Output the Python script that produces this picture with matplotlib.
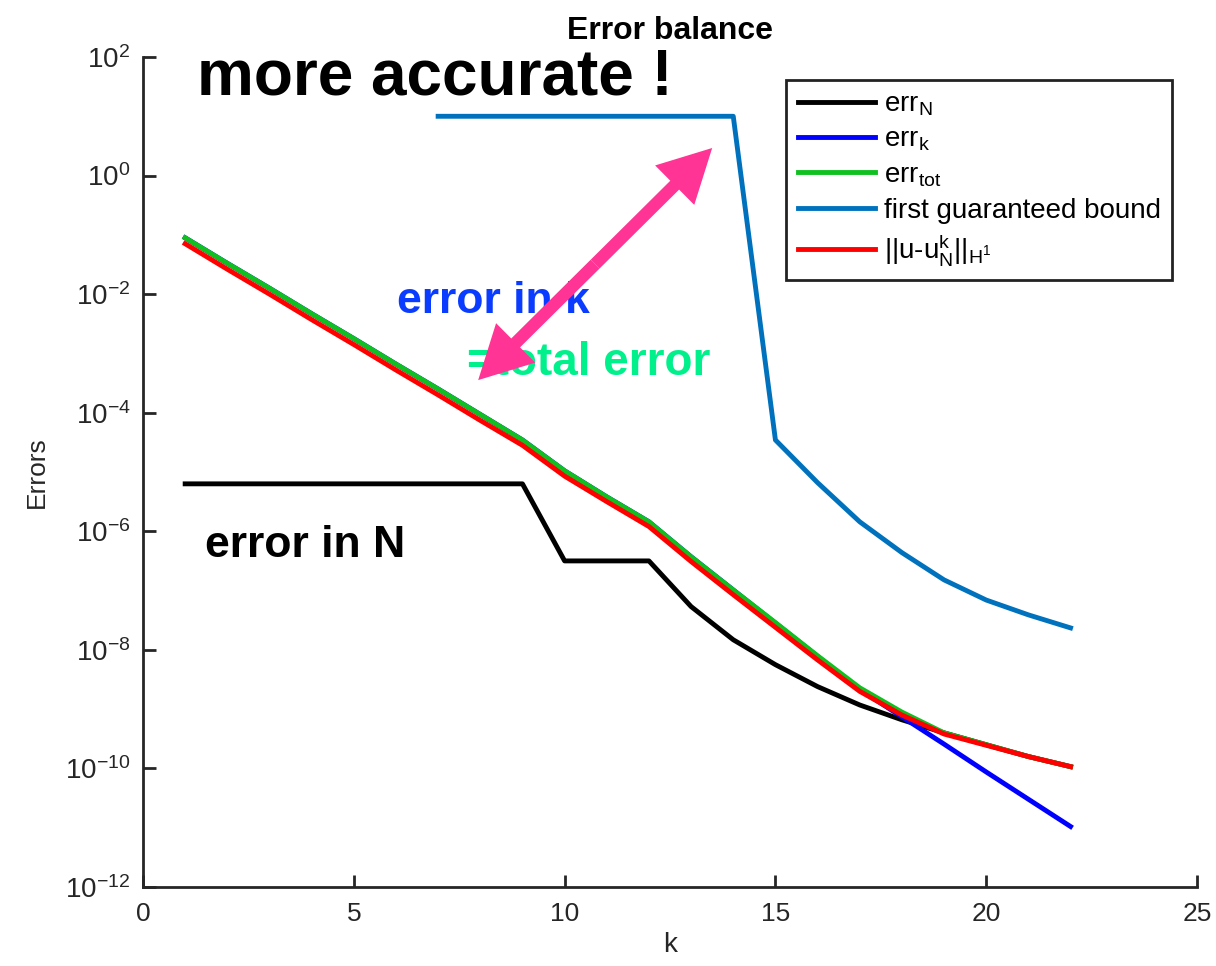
import matplotlib
matplotlib.use("Agg")
import matplotlib.pyplot as plt
from matplotlib.patches import FancyArrowPatch

plt.rcParams['font.family'] = ['Liberation Sans', 'DejaVu Sans']
plt.rcParams['mathtext.fontset'] = 'custom'
plt.rcParams['mathtext.rm'] = 'Liberation Sans'
plt.rcParams['mathtext.it'] = 'Liberation Sans:italic'
plt.rcParams['mathtext.bf'] = 'Liberation Sans:bold'

# iteration index
k = list(range(1, 23))
k_bound = list(range(7, 23))

# error estimates (log10 of the values)
log_err_N = [-5.2, -5.2, -5.2, -5.2, -5.2, -5.2, -5.2, -5.2, -5.2,
             -6.5, -6.5, -6.5, -7.27, -7.83, -8.25, -8.62, -8.93, -9.18,
             -9.4, -9.6, -9.8, -9.97]
log_err_k = [-1.05, -1.48, -1.9, -2.33, -2.75, -3.18, -3.6, -4.03, -4.46,
             -4.98, -5.42, -5.84, -6.43, -6.99, -7.55, -8.11, -8.67, -9.13,
             -9.59, -10.06, -10.52, -10.98]
log_err_tot = [-1.05, -1.48, -1.9, -2.33, -2.75, -3.18, -3.6, -4.03, -4.46,
               -4.98, -5.42, -5.84, -6.43, -6.99, -7.54, -8.1, -8.64, -9.05,
               -9.4, -9.6, -9.8, -9.97]
log_exact = [-1.15, -1.58, -2.0, -2.43, -2.85, -3.28, -3.7, -4.13, -4.55,
             -5.07, -5.5, -5.92, -6.51, -7.07, -7.62, -8.17, -8.7, -9.1,
             -9.42, -9.61, -9.8, -9.97]
log_bound = [1.0, 1.0, 1.0, 1.0, 1.0, 1.0, 1.0, 1.0, -4.46, -5.18, -5.84,
             -6.36, -6.82, -7.16, -7.41, -7.63]


def pw(vals):
    return [10 ** v for v in vals]


fig = plt.figure(figsize=(12.16, 9.66), dpi=100)
ax = fig.add_axes([0.1176, 0.0818, 0.8668, 0.8592])

lw = 3.5
ax.semilogy(k, pw(log_err_N), color='black', lw=lw, label=r'err$_{\mathrm{N}}$')
ax.semilogy(k, pw(log_err_k), color='#0000ff', lw=lw, label=r'err$_{\mathrm{k}}$')
ax.semilogy(k, pw(log_err_tot), color='#10c020', lw=lw, label=r'err$_{\mathrm{tot}}$')
ax.semilogy(k_bound, pw(log_bound), color='#0072bd', lw=lw,
            label='first guaranteed bound')
ax.semilogy(k, pw(log_exact), color='#ff0000', lw=lw,
            label=r'||u-u$_{\mathrm{N}}^{\mathrm{k}}$||$_{\mathrm{H}^{1}}$')

ax.set_xlim(0, 25)
ax.set_ylim(1e-12, 1e2)
ax.set_xticks([0, 5, 10, 15, 20, 25])
ax.set_yticks([10.0 ** e for e in range(-12, 3, 2)])
ax.minorticks_off()

for side in ('top', 'right'):
    ax.spines[side].set_visible(False)
for side in ('left', 'bottom'):
    ax.spines[side].set_linewidth(2.0)
    ax.spines[side].set_color('#262626')
ax.tick_params(direction='in', length=9, width=2.0, colors='#262626')
ax.tick_params(axis='x', labelsize=19, pad=11)
ax.tick_params(axis='y', labelsize=20, pad=9)

ax.set_xlabel('k', fontsize=20, color='#262626', labelpad=4)
ax.set_ylabel('Errors', fontsize=19, color='#262626', labelpad=12)
ax.set_title('Error balance', fontsize=23, fontweight='bold', pad=13)

leg = ax.legend(loc='upper right', bbox_to_anchor=(0.976, 0.972),
                borderaxespad=0, fontsize=20, fancybox=False,
                edgecolor='#222222', framealpha=1, handlelength=2.8,
                handletextpad=0.3, labelspacing=0.32, borderpad=0.4)
leg.get_frame().set_linewidth(2.0)

ax.text(1.28, 10 ** 1.36, 'more accurate !', fontsize=46, fontweight='bold')
ax.text(1.47, 10 ** -6.43, 'error in N', fontsize=32, fontweight='bold')
ax.text(6.02, 10 ** -2.32, 'error in k', fontsize=32, fontweight='bold',
        color='#0a3cff')
ax.text(7.68, 10 ** -3.36, '=total error', fontsize=33, fontweight='bold',
        color='#00f08c')

# double-headed pink arrow, drawn as two filled halves from the middle
lo = (7.95, 10 ** -3.45)
hi = (13.5, 10 ** 0.465)
mid = ((lo[0] + hi[0]) / 2, (lo[1] * hi[1]) ** 0.5)
for tip in (lo, hi):
    ax.add_patch(FancyArrowPatch(
        mid, tip,
        arrowstyle='simple,head_length=38,head_width=40,tail_width=9',
        mutation_scale=1, lw=0, color='#ff3494',
        shrinkA=0, shrinkB=0, zorder=10))

fig.savefig('out.png', dpi=100)
